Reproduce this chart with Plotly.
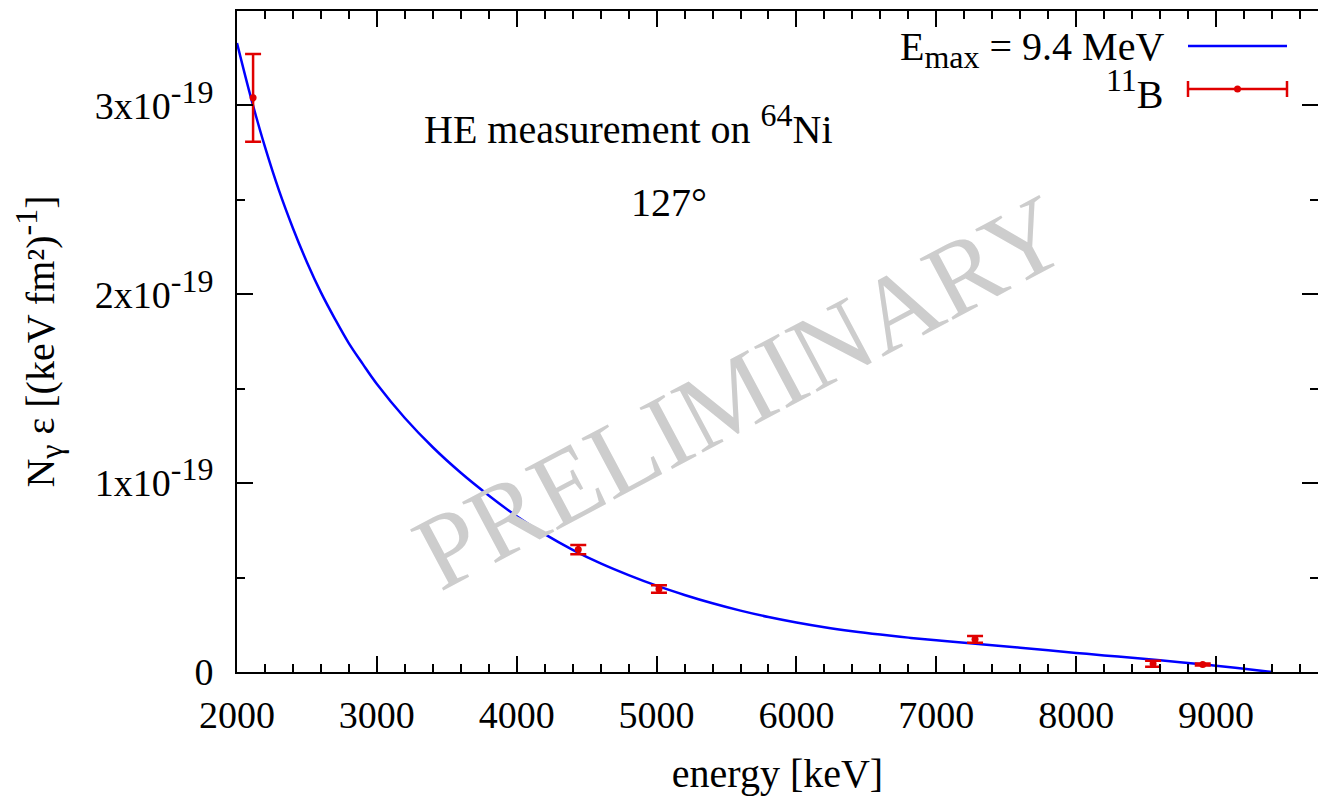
import numpy as np
import plotly.graph_objects as go

# ---- data ----
SCALE = 1e-19
# model curve, Emax = 9.4 MeV  (energy keV, value in units of 1e-19)
curve_e = [2000, 2100, 2200, 2300, 2400, 2500, 2600, 2700, 2800, 2900,
           3000, 3200, 3400, 3600, 3800, 4000, 4200, 4400, 4600, 4800,
           5000, 5200, 5400, 5600, 5800, 6000, 6200, 6400, 6600, 6800,
           7000, 7200, 7400, 7600, 7800, 8000, 8200, 8400, 8600, 8800,
           9000, 9200, 9400]
curve_v = [3.33, 3.04, 2.78, 2.55, 2.35, 2.17, 2.01, 1.87, 1.74, 1.63,
           1.525, 1.345, 1.19, 1.055, 0.935, 0.825, 0.730, 0.647, 0.575, 0.513,
           0.457, 0.408, 0.364, 0.325, 0.291, 0.262, 0.237, 0.216, 0.198, 0.182,
           0.168, 0.155, 0.142, 0.129, 0.115, 0.101, 0.088, 0.075, 0.062, 0.048,
           0.033, 0.017, 0.0]
# 11B data points
pts_e = [2115, 4440, 5017, 7277, 8550, 8905]
pts_v = [3.04, 0.648, 0.440, 0.173, 0.044, 0.040]
pts_err = [0.232, 0.024, 0.020, 0.018, 0.016, 0.005]

x_ticks = [2000, 3000, 4000, 5000, 6000, 7000, 8000, 9000]
y_ticks = [0, 1, 2, 3]


def sup(t, size=32):
    return f'<sup><span style="font-size:{size}px">{t}</span></sup>'


def sub(t, size=32):
    return f'<sub><span style="font-size:{size}px">{t}</span></sub>'


y_ticktext = ["0", "1x10" + sup("-19"), "2x10" + sup("-19"), "3x10" + sup("-19")]

FONT = "Liberation Serif"
BLUE = "#0000ff"
RED = "#e00000"

fig = go.Figure()
fig.add_trace(go.Scatter(
    x=curve_e, y=np.array(curve_v) * SCALE, mode="lines",
    line=dict(color=BLUE, width=2.5, shape="spline", smoothing=1.0),
    showlegend=False, hoverinfo="skip"))
fig.add_trace(go.Scatter(
    x=pts_e, y=np.array(pts_v) * SCALE, mode="markers",
    marker=dict(color=RED, size=7),
    error_y=dict(type="data", array=np.array(pts_err) * SCALE, color=RED,
                 thickness=2.5, width=8),
    showlegend=False))

W, H = 1318, 798
L, R, T, B = 237, 0, 11, 126
pw, ph = W - L - R, H - T - B


def px(xp):
    return (xp - L) / pw


def py(yp):
    return (H - B - yp) / ph


axis_common = dict(
    showgrid=False, zeroline=False, showline=True, linecolor="black", linewidth=2,
    mirror="ticks", ticks="inside", ticklen=16, tickwidth=2, tickcolor="black",
    tickfont=dict(family=FONT, size=38, color="black"), automargin=False,
)

fig.update_xaxes(
    range=[2000, 2000 + (W - L - R) / 0.13986], tickvals=x_ticks,
    minor=dict(dtick=200, ticks="inside", ticklen=8, tickwidth=2, tickcolor="black"),
    title=dict(text="energy [keV]", font=dict(family=FONT, size=40, color="black"), standoff=24),
    ticklabelstandoff=8,
    **axis_common)
fig.update_yaxes(
    range=[0, 3.5 * SCALE], tickvals=[v * SCALE for v in y_ticks], ticktext=y_ticktext,
    minor=dict(dtick=0.5 * SCALE, ticks="inside", ticklen=8, tickwidth=2, tickcolor="black"),
    title=dict(text="N" + sub("γ") + " ε [(keV fm²)" + sup("-1") + "]",
               font=dict(family=FONT, size=40, color="black"), standoff=28),
    ticklabelstandoff=14,
    **axis_common)

annotations = [
    dict(text="PRELIMINARY", x=px(740), y=py(392), xref="paper", yref="paper",
         xanchor="center", yanchor="middle",
         showarrow=False, textangle=-28, font=dict(family=FONT, size=106, color="rgb(205,205,205)")),
    dict(text="HE measurement on " + sup("64") + "Ni", x=px(628), y=py(124), xref="paper", yref="paper",
         xanchor="center", yanchor="middle",
         showarrow=False, font=dict(family=FONT, size=40, color="black")),
    dict(text="127°", x=px(669), y=py(203), xref="paper", yref="paper",
         xanchor="center", yanchor="middle",
         showarrow=False, font=dict(family=FONT, size=40, color="black")),
    dict(text="E" + sub("max") + " = 9.4 MeV", x=px(1166), y=py(49), xref="paper", yref="paper",
         xanchor="right", yanchor="middle", showarrow=False, font=dict(family=FONT, size=40, color="black")),
    dict(text=sup("11") + "B", x=px(1166), y=py(89), xref="paper", yref="paper",
         xanchor="right", yanchor="middle", showarrow=False, font=dict(family=FONT, size=40, color="black")),
]

shapes = [
    # legend key: blue line
    dict(type="line", xref="paper", yref="paper", x0=px(1188), x1=px(1287), y0=py(46), y1=py(46),
         line=dict(color=BLUE, width=2.5)),
    # legend key: red error bar
    dict(type="line", xref="paper", yref="paper", x0=px(1188), x1=px(1287), y0=py(89), y1=py(89),
         line=dict(color=RED, width=2.5)),
    dict(type="line", xref="paper", yref="paper", x0=px(1188), x1=px(1188), y0=py(81), y1=py(97),
         line=dict(color=RED, width=2.5)),
    dict(type="line", xref="paper", yref="paper", x0=px(1287), x1=px(1287), y0=py(81), y1=py(97),
         line=dict(color=RED, width=2.5)),
    dict(type="circle", xref="paper", yref="paper", x0=px(1234), x1=px(1241), y0=py(85.5), y1=py(92.5),
         fillcolor=RED, line=dict(color=RED, width=0)),
]

fig.update_layout(
    width=W, height=H, margin=dict(l=L, r=R, t=T, b=B),
    paper_bgcolor="white", plot_bgcolor="white",
    annotations=annotations, shapes=shapes, showlegend=False,
    font=dict(family=FONT, color="black"),
)

fig.write_html("out.html", config={"displayModeBar": False},
               post_script="document.body.style.margin='0px';document.body.style.overflow='hidden';")
